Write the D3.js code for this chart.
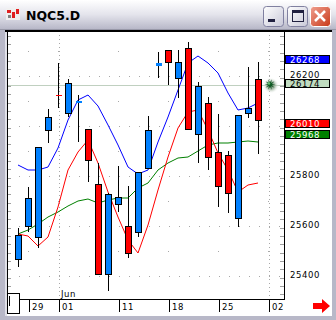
<!DOCTYPE html>
<html>
<head>
<meta charset="utf-8">
<script src="https://cdn.jsdelivr.net/npm/d3@7"></script>
<style>
  body { margin: 0; background: #d4d0c8; }
  svg { display: block; }
  text { font-family: "DejaVu Sans", sans-serif; }
</style>
</head>
<body>
<div id="chart"></div>
<script>
// daily bars, oldest first
var opens  = [25468, 25600, 25556, 25984, 26128, 26052, 26096, 25988, 25768, 25408, 25688, 25600, 25576, 25832, 26244, 26304, 26192, 26312, 25968, 26092, 25896, 25884, 25632, 26052, 26188];
var highs  = [25592, 25756, 25916, 26068, 26252, 26188, 26124, 25988, 25852, 25732, 25840, 25760, 25816, 26040, 26296, 26304, 26304, 26336, 26176, 26116, 26048, 25900, 26044, 26236, 26256];
var lows   = [25436, 25576, 25512, 25932, 26072, 26036, 25936, 25776, 25408, 25340, 25656, 25472, 25556, 25832, 26192, 26164, 26112, 25984, 25852, 25824, 25676, 25652, 25596, 26032, 25888];
var closes = [25564, 25712, 25916, 26036, 26124, 26172, 26104, 25864, 25408, 25728, 25716, 25492, 25816, 25984, 26256, 26256, 26256, 25988, 26160, 25876, 25760, 25732, 26044, 26072, 26024];

// moving averages
var maBlue  = [25844, 25824, 25824, 25836, 25912, 26024, 26104, 26124, 26080, 26004, 25924, 25836, 25808, 25824, 25936, 26036, 26144, 26252, 26280, 26252, 26212, 26132, 26064, 26072, 26092];
var maRed   = [25568, 25560, 25520, 25556, 25676, 25824, 25896, 25944, 25852, 25736, 25636, 25544, 25492, 25604, 25744, 25876, 25992, 26056, 26064, 25984, 25892, 25824, 25736, 25764, 25772];
var maGreen = [25568, 25584, 25608, 25636, 25656, 25680, 25700, 25708, 25692, 25704, 25712, 25712, 25752, 25772, 25824, 25852, 25872, 25876, 25900, 25924, 25932, 25932, 25936, 25940, 25936];

var dateLabels = ["29", "01", "11", "18", "25", "02"];
var dateIndex  = [1, 4, 10, 15, 20, 25];
var monthLabel = "Jun", monthIndex = 4;
var denseIndex = [4, 25];   // month lines

var priceTicks = [25400, 25600, 25800, 26200];
var lastPrice = 26174;
var markers = [
  {v: 26268, text: "26268", bg: "#0000ff", fg: "#fff"},
  {v: 26174, text: "26174", bg: "#c0dcc0", fg: "#000"},
  {v: 26010, text: "26010", bg: "#ff0000", fg: "#fff"},
  {v: 25968, text: "25968", bg: "#008000", fg: "#fff"}
];

var W = 336, H = 320;
var plot = {l: 7, t: 32, r: 284, b: 299};

var svg = d3.select("#chart").append("svg").attr("width", W).attr("height", H);

// ---- window chrome ----
var defs = svg.append("defs");
var tg = defs.append("linearGradient").attr("id", "title").attr("x1", 0).attr("y1", 0).attr("x2", 0).attr("y2", 1);
tg.append("stop").attr("offset", 0).attr("stop-color", "#ffffff");
tg.append("stop").attr("offset", 0.5).attr("stop-color", "#e4e4ec");
tg.append("stop").attr("offset", 1).attr("stop-color", "#b8b8c8");
var bg = defs.append("linearGradient").attr("id", "btn").attr("x1", 0).attr("y1", 0).attr("x2", 1).attr("y2", 1);
bg.append("stop").attr("offset", 0).attr("stop-color", "#ffffff");
bg.append("stop").attr("offset", 1).attr("stop-color", "#c8c8d8");
var cg = defs.append("linearGradient").attr("id", "cls").attr("x1", 0).attr("y1", 0).attr("x2", 1).attr("y2", 1);
cg.append("stop").attr("offset", 0).attr("stop-color", "#f0a090");
cg.append("stop").attr("offset", 1).attr("stop-color", "#c83818");
var sg = defs.append("radialGradient").attr("id", "star");
sg.append("stop").attr("offset", 0).attr("stop-color", "#507050");
sg.append("stop").attr("offset", 0.5).attr("stop-color", "#90a890").attr("stop-opacity", 0.7);
sg.append("stop").attr("offset", 1).attr("stop-color", "#ffffff").attr("stop-opacity", 0);

svg.append("rect").attr("width", W).attr("height", H).attr("fill", "#a8a8bc");
svg.append("rect").attr("x", 2).attr("y", 2).attr("width", W - 4).attr("height", H - 4).attr("fill", "#d0d0dc");
svg.append("rect").attr("x", 0).attr("y", 0).attr("width", W).attr("height", 29).attr("fill", "url(#title)");
svg.append("line").attr("x1", 0).attr("x2", W).attr("y1", 29.5).attr("y2", 29.5).attr("stroke", "#9898a8");

// icon
var icon = svg.append("g").attr("transform", "translate(6,8)");
icon.append("rect").attr("width", 14).attr("height", 12).attr("fill", "#f0f0f0");
icon.append("rect").attr("x", 1).attr("y", 2).attr("width", 4).attr("height", 3).attr("fill", "#e02020");
icon.append("rect").attr("x", 6).attr("y", 4).attr("width", 3).attr("height", 6).attr("fill", "#e02020");
icon.append("rect").attr("x", 10).attr("y", 1).attr("width", 3).attr("height", 5).attr("fill", "#e02020");
icon.append("rect").attr("x", 2).attr("y", 7).attr("width", 3).attr("height", 3).attr("fill", "#808080");

svg.append("text").attr("x", 26).attr("y", 20).attr("font-size", 12.5).attr("font-weight", "bold")
  .attr("fill", "#000").text("NQC5.D");

var btns = [{x: 263, f: "url(#btn)"}, {x: 287, f: "url(#btn)"}, {x: 310, f: "url(#cls)"}];
svg.selectAll("rect.btn").data(btns).enter().append("rect").attr("class", "btn")
  .attr("x", d => d.x + 0.5).attr("y", 6.5).attr("width", 20).attr("height", 20).attr("rx", 3)
  .attr("fill", d => d.f).attr("stroke", (d, i) => i == 2 ? "#fff" : "#8080a0");
svg.append("rect").attr("x", 268).attr("y", 19).attr("width", 7).attr("height", 3).attr("fill", "#202040");
svg.append("rect").attr("x", 292.5).attr("y", 10.5).attr("width", 11).attr("height", 11).attr("fill", "none")
  .attr("stroke", "#202040").attr("stroke-width", 1);
svg.append("rect").attr("x", 292).attr("y", 10).attr("width", 12).attr("height", 3).attr("fill", "#202040");
svg.append("path").attr("d", "M315,11L325,21M325,11L315,21").attr("stroke", "#fff").attr("stroke-width", 2.5);

// client area
svg.append("rect").attr("x", plot.l).attr("y", plot.t).attr("width", 325).attr("height", 284).attr("fill", "#fff");
svg.append("rect").attr("x", 0).attr("y", 30).attr("width", 5).attr("height", 290).attr("fill", "#b8b8c8");
svg.append("rect").attr("x", 5).attr("y", 30).attr("width", 2).attr("height", 286).attr("fill", "#e0e0e8");
svg.append("rect").attr("x", 0).attr("y", 316).attr("width", W).attr("height", 4).attr("fill", "#b8b8c8");
svg.append("rect").attr("x", 332).attr("y", 30).attr("width", 4).attr("height", 290).attr("fill", "#b8b8c8");
svg.append("rect").attr("x", 5).attr("y", 30).attr("width", 327).attr("height", 2).attr("fill", "#000");

// ---- scales ----
var x = d3.scaleLinear().domain([0, 26]).range([18, 278]);
var y = d3.scaleLinear().domain([25308, 26376]).range([plot.b, plot.t]);

var g = svg.append("g");

// grid
var grid = g.append("g").attr("fill", "#a8a8a8");
var evenLevels = d3.range(25400, 26400, 200), oddLevels = d3.range(25500, 26400, 200);
evenLevels.forEach(function(p) {
  d3.range(0, 27).forEach(function(i) {
    grid.append("rect").attr("x", Math.round(x(i)) + 1).attr("y", Math.round(y(p))).attr("width", 1).attr("height", 1);
  });
});
oddLevels.forEach(function(p) {
  dateIndex.forEach(function(i) {
    grid.append("rect").attr("x", Math.round(x(i))).attr("y", Math.round(y(p))).attr("width", 1).attr("height", 1);
  });
});
denseIndex.forEach(function(i) {
  d3.range(plot.t + 3, plot.b, 4).forEach(function(yy) {
    grid.append("rect").attr("x", Math.round(x(i)) + 1).attr("y", yy).attr("width", 1).attr("height", 1);
  });
});

// axis minor ticks
var minor = d3.range(plot.t + 4, plot.b, 25 / 3);
g.append("g").selectAll("line").data(minor).enter().append("line")
  .attr("x1", plot.l + 1).attr("x2", plot.l + 4).attr("y1", d => Math.round(d) + 0.5).attr("y2", d => Math.round(d) + 0.5)
  .attr("stroke", "#a0a0a0");
g.append("g").selectAll("line").data(minor).enter().append("line")
  .attr("x1", plot.r - 4).attr("x2", plot.r).attr("y1", d => Math.round(d) + 0.5).attr("y2", d => Math.round(d) + 0.5)
  .attr("stroke", "#a0a0a0");

// last price line
g.append("line").attr("x1", plot.l).attr("x2", plot.r).attr("y1", Math.round(y(lastPrice)) + 2.5).attr("y2", Math.round(y(lastPrice)) + 2.5)
  .attr("stroke", "#c0d0c0");

// moving averages
var line = d3.line().x((d, i) => x(i)).y(d => y(d));
[[maGreen, "#008000"], [maRed, "#ff0000"], [maBlue, "#0000ff"]].forEach(function(s) {
  g.append("path").datum(s[0]).attr("d", line).attr("fill", "none").attr("stroke", s[1]).attr("stroke-width", 1);
});

// candles
var bars = d3.range(opens.length).map(function(i) {
  return {i: i, o: opens[i], h: highs[i], l: lows[i], c: closes[i]};
});
var cg2 = g.append("g").attr("shape-rendering", "crispEdges");
cg2.selectAll("line").data(bars).enter().append("line")
  .attr("x1", d => Math.round(x(d.i)) + 0.5).attr("x2", d => Math.round(x(d.i)) + 0.5)
  .attr("y1", d => y(d.h)).attr("y2", d => y(d.l)).attr("stroke", "#000");
cg2.selectAll("rect").data(bars).enter().append("rect")
  .attr("x", d => Math.round(x(d.i)) - 2.5).attr("width", 6)
  .attr("y", d => Math.round(y(Math.max(d.o, d.c))) + 0.5)
  .attr("height", d => Math.max(1, Math.round(Math.abs(y(d.o) - y(d.c)))))
  .attr("fill", d => d.c >= d.o ? "#0080ff" : "#ff0000")
  .attr("stroke", d => Math.abs(y(d.o) - y(d.c)) >= 3 ? "#000" : "none");

// star at current price
var sx = x(25.2), sy = y(lastPrice) + 2;
g.append("circle").attr("cx", sx + 1).attr("cy", sy + 1).attr("r", 8).attr("fill", "url(#star)");
var starPts = d3.range(20).map(function(k) {
  var a = k * Math.PI / 10, r = k % 2 ? 2 : 5.5;
  return [sx + r * Math.cos(a), sy + r * Math.sin(a)];
});
g.append("path").attr("d", d3.line()(starPts) + "Z").attr("fill", "#0f5a24");
g.append("circle").attr("cx", sx - 1).attr("cy", sy - 1).attr("r", 1.2).attr("fill", "#60c070");

// plot frame
svg.append("line").attr("x1", plot.l + 0.5).attr("x2", plot.l + 0.5).attr("y1", plot.t).attr("y2", plot.b).attr("stroke", "#000");
svg.append("line").attr("x1", plot.r + 0.5).attr("x2", plot.r + 0.5).attr("y1", plot.t).attr("y2", plot.b + 1).attr("stroke", "#000");
svg.append("line").attr("x1", plot.l).attr("x2", plot.r + 1).attr("y1", plot.b + 0.5).attr("y2", plot.b + 0.5).attr("stroke", "#000");

// right price labels
var ax = svg.append("g").attr("font-size", 8.5).attr("letter-spacing", 0.6);
ax.selectAll("text.tick").data(priceTicks).enter().append("text").attr("class", "tick")
  .attr("x", 320).attr("text-anchor", "end").attr("y", d => y(d) + 2).attr("fill", "#000").text(d => d);
var mk = ax.selectAll("g.mk").data(markers).enter().append("g").attr("class", "mk")
  .attr("transform", d => "translate(0," + Math.round(y(d.v)) + ")");
mk.append("rect").attr("x", 285.5).attr("y", -3.5).attr("width", 44).attr("height", 8)
  .attr("fill", d => d.bg).attr("stroke", "#000");
mk.append("text").attr("x", 320).attr("text-anchor", "end").attr("y", 3.5).attr("fill", d => d.fg).text(d => d.text);

// date axis
var dax = svg.append("g").attr("font-size", 8.5).attr("letter-spacing", 0.6);
dax.selectAll("line").data(dateIndex).enter().append("line")
  .attr("x1", d => Math.round(x(d)) + 1.5).attr("x2", d => Math.round(x(d)) + 1.5)
  .attr("y1", plot.b).attr("y2", plot.b + 13).attr("stroke", "#000");
dax.selectAll("text").data(dateLabels).enter().append("text")
  .attr("x", (d, i) => Math.round(x(dateIndex[i])) + 4).attr("y", plot.b + 11).attr("fill", "#000").text(d => d);
dax.append("text").attr("x", Math.round(x(monthIndex)) + 3).attr("y", plot.b - 2).attr("fill", "#000").text(monthLabel);

// small scroll box + arrow
svg.append("rect").attr("x", 7.5).attr("y", 293.5).attr("width", 12).attr("height", 20).attr("fill", "#fff").attr("stroke", "#000");
svg.append("line").attr("x1", 9.5).attr("x2", 9.5).attr("y1", 296).attr("y2", 306).attr("stroke", "#000");
svg.append("path").attr("d", "M313,303L322,303L322,299L330,306L322,313L322,309L313,309Z").attr("fill", "#ff0000");
</script>
</body>
</html>
